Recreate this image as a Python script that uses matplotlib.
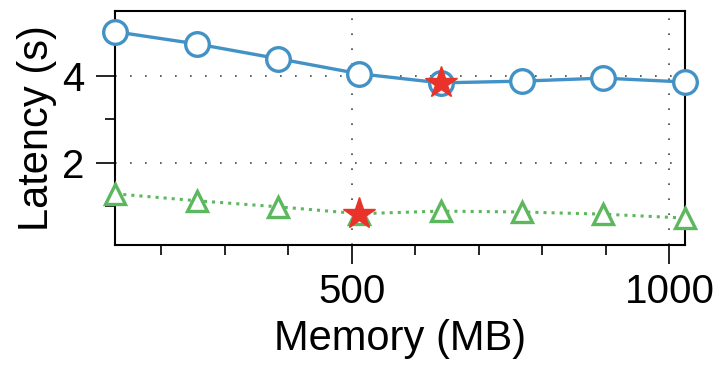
import matplotlib
matplotlib.use('Agg')
import matplotlib.pyplot as plt
from matplotlib.ticker import MultipleLocator

plt.rcParams['font.family'] = ['Liberation Sans', 'DejaVu Sans']

memory = [128, 256, 384, 512, 640, 768, 896, 1024]
latency_blue = [5.02, 4.74, 4.40, 4.05, 3.84, 3.88, 3.95, 3.86]
latency_green = [1.28, 1.12, 0.98, 0.82, 0.88, 0.86, 0.81, 0.72]
best_blue = (640, 3.84)
best_green = (512, 0.82)

fig = plt.figure(figsize=(7.2, 3.65), dpi=100)
ax = fig.add_axes([0.16, 0.329, 0.791, 0.641])

ax.plot(memory, latency_blue, linestyle='-', color='#4292c6', linewidth=2.4,
        marker='o', markersize=17, markerfacecolor='white',
        markeredgecolor='#4292c6', markeredgewidth=2.4, clip_on=False, zorder=3)
ax.plot(memory, latency_green, linestyle=':', color='#5cb85c', linewidth=2.2,
        marker='^', markersize=15, markerfacecolor='white',
        markeredgecolor='#5cb85c', markeredgewidth=2.4, clip_on=False, zorder=3)

ax.plot([best_blue[0], best_green[0]], [best_blue[1], best_green[1]],
        linestyle='none', marker='*', markersize=24, color='#e8322a',
        markeredgecolor='#e8322a', clip_on=False, zorder=4)

ax.set_xlim(128, 1024)
ax.set_ylim(0.1, 5.5)

ax.xaxis.set_major_locator(MultipleLocator(500))
ax.xaxis.set_minor_locator(MultipleLocator(100))
ax.yaxis.set_major_locator(MultipleLocator(2))
ax.yaxis.set_minor_locator(MultipleLocator(1))

ax.tick_params(which='major', length=14, width=1.2, labelsize=29, direction='out')
ax.tick_params(axis='x', which='major', pad=6)
ax.tick_params(axis='y', which='major', pad=8)
ax.tick_params(which='minor', length=7, width=1.2, direction='out')

ax.grid(True, which='major', linestyle=(0, (1, 8)), color='#444444', linewidth=1.2)

for s in ax.spines.values():
    s.set_linewidth(1.5)

ax.set_xlabel('Memory (MB)', fontsize=30, labelpad=6)
ax.set_ylabel('Latency (s)', fontsize=30, labelpad=4)

fig.savefig('out.png', dpi=100)
